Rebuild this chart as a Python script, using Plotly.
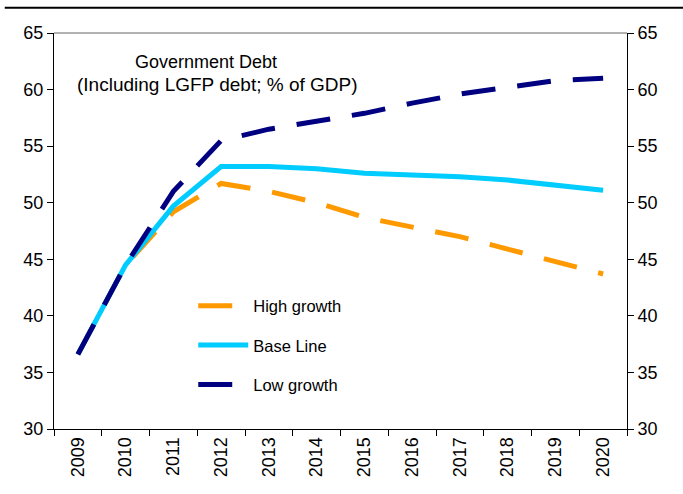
import plotly.graph_objects as go

years = ["2009", "2010", "2011", "2012", "2013", "2014", "2015", "2016", "2017", "2018", "2019", "2020"]
high_growth = [36.6, 44.5, 49.2, 51.7, 51.0, 50.0, 48.7, 47.9, 47.0, 45.9, 44.8, 43.7]
base_line = [36.6, 44.5, 49.7, 53.2, 53.2, 53.0, 52.6, 52.5, 52.3, 52.0, 51.6, 51.1]
low_growth = [36.6, 44.5, 51.0, 55.5, 56.5, 57.2, 57.9, 58.8, 59.6, 60.2, 60.8, 61.0]
y_ticks = [30, 35, 40, 45, 50, 55, 60, 65]

font = "Liberation Sans, Arial, sans-serif"
dash = "34px,22px"

fig = go.Figure()
fig.add_trace(go.Scatter(x=years, y=high_growth, name="High growth", mode="lines",
                         legendgroup="a",
                         line=dict(color="#FF9900", width=5, dash=dash)))
fig.add_trace(go.Scatter(x=years, y=base_line, name="Base Line", mode="lines",
                         legendgroup="b",
                         line=dict(color="#00CCFF", width=5)))
fig.add_trace(go.Scatter(x=years, y=low_growth, name="Low growth", mode="lines",
                         legendgroup="c",
                         line=dict(color="#000080", width=5, dash=dash)))

fig.update_layout(
    width=683, height=494,
    margin=dict(l=54, r=56, t=33, b=65),
    paper_bgcolor="white", plot_bgcolor="white",
    font=dict(family=font, size=17, color="black"),
    showlegend=True,
    legend=dict(x=0.243, y=0.355, xanchor="left", yanchor="top",
                bgcolor="rgba(0,0,0,0)", font=dict(size=16.5),
                tracegroupgap=15, itemwidth=50),
    xaxis=dict(type="category", showline=True, linecolor="black", linewidth=1,
               ticks="outside", tickson="boundaries", ticklen=6, tickcolor="black",
               tickangle=-90, showgrid=False, zeroline=False,
               tickfont=dict(size=18), range=[-0.5, 11.5]),
    yaxis=dict(range=[30, 65], tickvals=y_ticks, showline=True, linecolor="black",
               linewidth=1, ticks="outside", ticklen=6, tickcolor="black",
               showgrid=False, zeroline=False, tickfont=dict(size=18)),
    yaxis2=dict(range=[30, 65], tickvals=y_ticks, overlaying="y", side="right",
                showline=True, linecolor="black", linewidth=1, ticks="outside",
                ticklen=6, tickcolor="black", showgrid=False, zeroline=False,
                tickfont=dict(size=18)),
    shapes=[
        dict(type="line", xref="paper", yref="paper", x0=0, x1=1, y0=1, y1=1,
             line=dict(color="#999999", width=1.5)),
        dict(type="line", xref="paper", yref="paper", x0=-0.086, x1=1.1, y0=1.064, y1=1.064,
             line=dict(color="black", width=2)),
    ],
    annotations=[
        dict(text="Government Debt", xref="paper", yref="paper",
             x=0.265, y=0.927, xanchor="center", yanchor="middle", showarrow=False,
             font=dict(size=18, family=font)),
        dict(text="(Including LGFP debt; % of GDP)", xref="paper", yref="paper",
             x=0.286, y=0.869, xanchor="center", yanchor="middle", showarrow=False,
             font=dict(size=19, family=font)),
    ],
)
# invisible trace to anchor the right axis
fig.add_trace(go.Scatter(x=years, y=base_line, yaxis="y2", mode="lines",
                         line=dict(width=0, color="rgba(0,0,0,0)"), showlegend=False,
                         hoverinfo="skip"))

fig.write_html("out.html")
